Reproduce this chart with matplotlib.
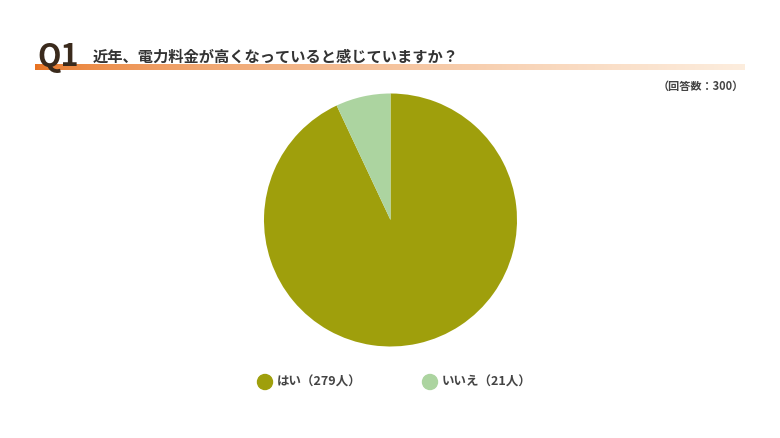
import numpy as np
import matplotlib.pyplot as plt
from matplotlib.patches import Circle

plt.rcParams['font.family'] = ['Noto Sans CJK JP', 'DejaVu Sans']

labels = ['はい', 'いいえ']
counts = [279, 21]
colors = ['#9f9f0c', '#acd4a0']
total_label = '（回答数：300）'
title = '近年、電力料金が高くなっていると感じていますか？'

W, H = 780, 438
fig = plt.figure(figsize=(W / 100, H / 100), dpi=100)

# background axes in pixel coords
bg = fig.add_axes([0, 0, 1, 1])
bg.set_xlim(0, W)
bg.set_ylim(H, 0)
bg.axis('off')

# gradient bar under the title
grad = np.linspace(0, 1, 256)
c0 = np.array([0.91, 0.45, 0.13])
c1 = np.array([0.99, 0.93, 0.87])
strip = c0[None, :] * (1 - grad[:, None] ** 0.6) + c1[None, :] * (grad[:, None] ** 0.6)
bg.imshow(strip[None, :, :], extent=[35, 745, 70, 64], aspect='auto')

bg.text(37, 66, 'Q1', fontsize=22, fontweight='bold', color='#3a2a1c',
        ha='left', va='baseline')
bg.text(93, 62, title, fontsize=11, fontweight='bold', color='#333333',
        ha='left', va='baseline')
bg.text(744, 86, total_label, fontsize=8, fontweight='bold', color='#444444',
        ha='right', va='center')

# pie
ax = fig.add_axes([264 / W, (H - 347) / H, 253 / W, 254 / H])
ax.pie(counts, colors=colors, startangle=90, counterclock=False,
       wedgeprops={'linewidth': 0})
ax.set_xlim(-1, 1)
ax.set_ylim(-1, 1)
ax.set_aspect('equal')

# legend
legend_x = [265, 430]
for x, lab, n, col in zip(legend_x, labels, counts, colors):
    bg.add_patch(Circle((x, 382), 7.5, color=col))
    bg.text(x + 12, 382, f'{lab}（{n}人）', fontsize=9, fontweight='bold',
            color='#444444', ha='left', va='center')

fig.savefig('out.png', dpi=100)
